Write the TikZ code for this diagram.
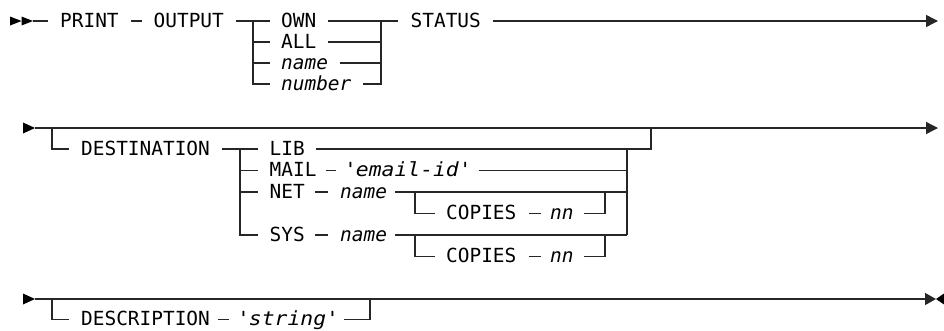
\documentclass[tikz,border=0pt]{standalone}
\usepackage{fontspec}
\setmonofont{DejaVu Sans Mono}[ItalicFont={DejaVu Sans Mono Oblique}]
\newfontfamily\quotedfont{DejaVu Sans Mono}[ItalicFont={DejaVu Sans Mono Oblique}, FakeStretch=1.1]
\usetikzlibrary{arrows.meta}
\newlength\lgap
\newlength\rgap
\begin{document}
\begin{tikzpicture}[x=1pt,y=-1pt,
  lg/.code={\setlength\lgap{#1}},
  rg/.code={\setlength\rgap{#1}},
  txt/.style={font=\ttfamily\fontsize{19.43}{20}\selectfont, inner sep=0pt,
    text height=12pt, text depth=0pt, anchor=west, lg=11.5pt, rg=11.5pt,
    execute at begin node={\hspace*{\lgap}},
    execute at end node={\hspace*{\rgap}}},
  kw/.style={txt},
  var/.style={txt, font=\ttfamily\itshape\fontsize{19.43}{20}\selectfont},
  qvar/.style={txt, font=\quotedfont\itshape\fontsize{19.43}{20}\selectfont},
  rail/.style={line width=1.4pt, draw=black!85},
  endarrow/.style={rail, -{Triangle[length=12pt,width=12pt]}},
  marker/.style={fill=black},
]
\useasboundingbox (0,0) rectangle (944,330);

% ---------- first line: PRINT OUTPUT ... STATUS
\fill[marker] (10,16.5) -- (21.5,21) -- (10,25.5) -- cycle;
\fill[marker] (21.5,16.5) -- (33,21) -- (21.5,25.5) -- cycle;
\coordinate (m1) at (33,21);
\node[kw, lg=12pt, rg=12pt] (print) at (48,21) {PRINT};
\node[kw, lg=12pt, rg=12pt] (output) at (141.5,21) {OUTPUT};
\node[kw, lg=11pt] (own) at (270,21) {OWN};
\node[kw, lg=11pt] (all) at (270,42) {ALL};
\node[var, lg=11pt] (oname) at (270,63) {name};
\node[var, lg=11pt] (onum) at (270,84) {number};
\node[kw, lg=12.5pt] (status) at (398,21) {STATUS};
\coordinate (ja) at (253,21);
\coordinate (jb) at (381,21);
\coordinate (e1) at (938,21);

\draw[rail] (m1) -- (print);
\draw[rail] (print) -- (output);
\draw[rail] (output) -- (own);
\draw[rail] (ja) -- (ja |- onum) -- (onum.west);
\draw[rail] (ja |- all) -- (all);
\draw[rail] (ja |- oname) -- (oname);
\draw[rail] (own) -- (status);
\draw[rail] (jb) -- (jb |- onum) -- (onum.east);
\draw[rail] (all) -- (jb |- all);
\draw[rail] (oname) -- (jb |- oname);
\draw[endarrow] (status) -- (e1);

% ---------- second line: optional DESTINATION
\fill[marker] (23,122.5) -- (35,128) -- (23,133.5) -- cycle;
\coordinate (m2) at (35,128);
\coordinate (e2) at (938,128);
\coordinate (b2) at (52,128);
\draw[endarrow] (m2) -- (e2);

\node[kw, lg=12pt] (dest) at (69,149) {DESTINATION};
\node[kw] (lib) at (258,149) {LIB};
\node[kw, rg=9pt] (mail) at (258,170.5) {MAIL};
\node[qvar, lg=8pt, rg=8pt] (email) at (336,170.5) {\textquotesingle email-id\textquotesingle};
\node[kw, rg=10pt] (net) at (258,192) {NET};
\node[var, lg=12.5pt, rg=7.7pt] (nname) at (327.5,192) {name};
\node[kw, rg=10pt] (sys) at (258,235) {SYS};
\node[var, lg=12.5pt, rg=7.7pt] (sname) at (327.5,235) {name};
\node[kw, lg=11pt, rg=12pt] (cop1) at (435,213.5) {COPIES};
\node[var, lg=9pt, rg=10pt] (nn1) at (541,213.5) {nn};
\node[kw, lg=11pt, rg=12pt] (cop2) at (435,256.5) {COPIES};
\node[var, lg=9pt, rg=10pt] (nn2) at (541,256.5) {nn};
\coordinate (jc) at (240,149);
\coordinate (jd) at (627,149);
\coordinate (je) at (651,149);
\coordinate (k1) at (415,192);
\coordinate (k2) at (605,192);
\coordinate (k3) at (415,235);
\coordinate (k4) at (605,235);

\draw[rail] (b2) |- (dest.west);
\draw[rail] (dest) -- (lib);
\draw[rail] (jc) |- (sys.west);
\draw[rail] (jc |- mail) -- (mail);
\draw[rail] (jc |- net) -- (net);
\draw[rail] (mail) -- (email);
\draw[rail] (net) -- (nname);
\draw[rail] (sys) -- (sname);
\draw[rail] (lib) -- (je) -- (je |- m2);
\draw[rail] (jd) -- (jd |- sname);
\draw[rail] (email) -- (jd |- email);
\draw[rail] (nname) -- (jd |- nname);
\draw[rail] (sname) -- (jd |- sname);
\draw[rail] (k1) |- (cop1.west);
\draw[rail] (cop1) -- (nn1);
\draw[rail] (nn1.east) -| (k2);
\draw[rail] (k3) |- (cop2.west);
\draw[rail] (cop2) -- (nn2);
\draw[rail] (nn2.east) -| (k4);

% ---------- third line: optional DESCRIPTION, end of statement
\fill[marker] (23,293.5) -- (35,299) -- (23,304.5) -- cycle;
\coordinate (m3) at (35,299);
\coordinate (e3) at (936,299);
\coordinate (b3) at (52,299);
\coordinate (b4) at (370,299);
\draw[rail, -{Triangle[length=11pt,width=12pt]}] (m3) -- (e3);
\fill[marker] (944,293.5) -- (936,299) -- (944,304.5) -- cycle;

\node[kw, lg=12pt, rg=8.3pt] (desc) at (69,319.5) {DESCRIPTION};
\node[qvar, lg=8pt, rg=6pt] (str) at (229,319.5) {\textquotesingle string\textquotesingle};
\draw[rail] (b3) |- (desc.west);
\draw[rail] (desc) -- (str);
\draw[rail] (str.east) -| (b4);
\end{tikzpicture}
\end{document}
